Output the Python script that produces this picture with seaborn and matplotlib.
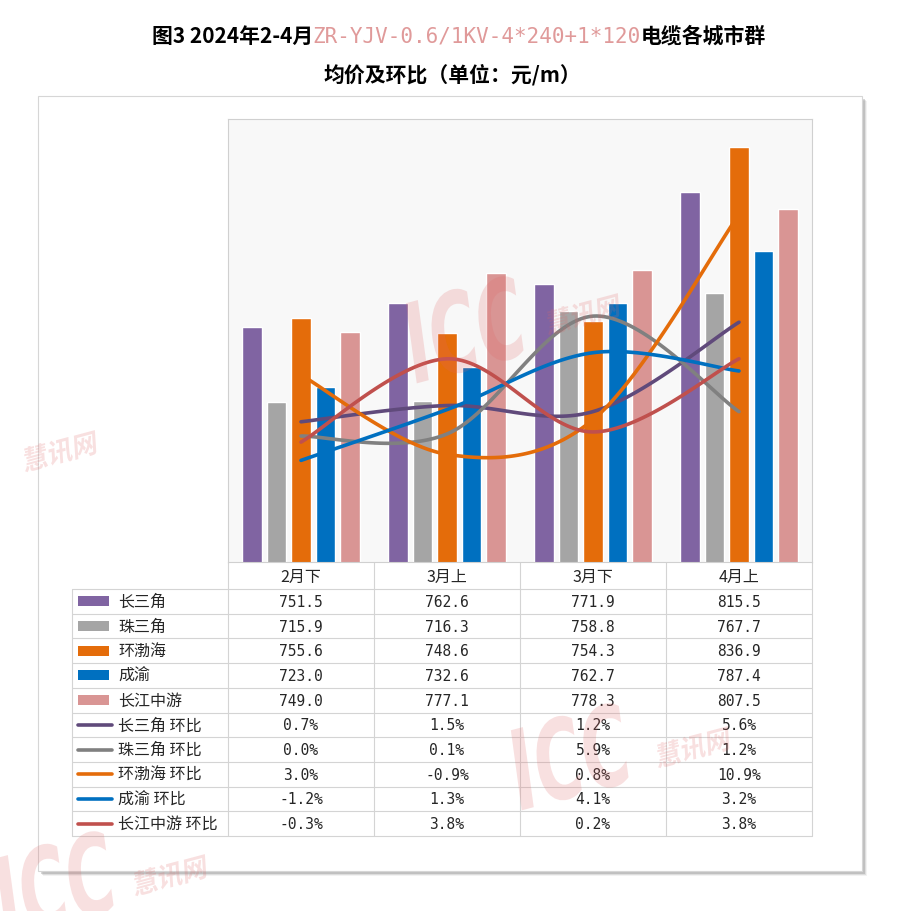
import numpy as np
import pandas as pd
import matplotlib
matplotlib.use('Agg')
import matplotlib.pyplot as plt
import seaborn as sns
from matplotlib.patches import Rectangle, PathPatch
from matplotlib.textpath import TextPath
from matplotlib.font_manager import FontProperties
from matplotlib.transforms import Affine2D

# values
periods = ['2月下', '3月上', '3月下', '4月上']
regions = ['长三角', '珠三角', '环渤海', '成渝', '长江中游']

price_csj = [751.5, 762.6, 771.9, 815.5]
price_zsj = [715.9, 716.3, 758.8, 767.7]
price_hbh = [755.6, 748.6, 754.3, 836.9]
price_cy = [723.0, 732.6, 762.7, 787.4]
price_cjzy = [749.0, 777.1, 778.3, 807.5]

mom_csj = [0.7, 1.5, 1.2, 5.6]
mom_zsj = [0.0, 0.1, 5.9, 1.2]
mom_hbh = [3.0, -0.9, 0.8, 10.9]
mom_cy = [-1.2, 1.3, 4.1, 3.2]
mom_cjzy = [-0.3, 3.8, 0.2, 3.8]

bar_colors = ['#8064A2', '#A5A5A5', '#E46C0A', '#0070C0', '#D99594']
line_colors = ['#604A7B', '#808080', '#E46C0A', '#0070C0', '#C0504D']

prices = [price_csj, price_zsj, price_hbh, price_cy, price_cjzy]
moms = [mom_csj, mom_zsj, mom_hbh, mom_cy, mom_cjzy]

df = pd.DataFrame({
    'period': periods * len(regions),
    'region': [r for r in regions for _ in periods],
    'price': [v for s in prices for v in s],
})


def smooth(ys, n=40):
    # excel-like smoothed line (bezier through the points)
    P = np.column_stack([np.arange(len(ys)), np.asarray(ys, float)])
    ext = np.vstack([P[0], P, P[-1]])
    t = np.linspace(0, 1, n)[:, None]
    out = []
    for i in range(len(P) - 1):
        p0, p1, p2, p3 = ext[i], ext[i + 1], ext[i + 2], ext[i + 3]
        c1 = p1 + (p2 - p0) / 6
        c2 = p2 - (p3 - p1) / 6
        seg = (1 - t) ** 3 * p1 + 3 * (1 - t) ** 2 * t * c1 + 3 * (1 - t) * t ** 2 * c2 + t ** 3 * p2
        out.append(seg if i == 0 else seg[1:])
    return np.vstack(out)


sns.set_theme(style='white')
plt.rcParams['font.family'] = ['Noto Sans CJK SC', 'DejaVu Sans']

W, H = 900, 912
fig = plt.figure(figsize=(W / 100, H / 100), dpi=100)

# background layer in pixel coords: card, shadow, title, table
bg = fig.add_axes([0, 0, 1, 1], zorder=0)
bg.set_xlim(0, W)
bg.set_ylim(H, 0)
bg.axis('off')

for k, a in enumerate([0.10, 0.18, 0.30]):
    off = 5 - k
    bg.add_patch(Rectangle((38 + off, 97 + off), 824, 775, fc='#808080', ec='none', alpha=a))
bg.add_patch(Rectangle((38, 97), 824, 775, fc='white', ec='#D6D6D6', lw=0.8))

# title with coloured middle part
fig.canvas.draw()
renderer = fig.canvas.get_renderer()
parts = [
    ('图3 2024年2-4月', 'black', dict(family=['Noto Sans CJK SC'], weight='bold')),
    ('ZR-YJV-0.6/1KV-4*240+1*120', '#E09A9A', dict(family=['DejaVu Sans Mono'])),
    ('电缆各城市群', 'black', dict(family=['Noto Sans CJK SC'], weight='bold')),
]
texts = []
for s, c, kw in parts:
    texts.append(bg.text(0, 36, s, color=c, fontsize=15, va='center', ha='left', **kw))
widths = [t.get_window_extent(renderer).width for t in texts]
x = 459 - sum(widths) / 2
for t, w in zip(texts, widths):
    t.set_x(x)
    x += w
bg.text(452, 75, '均价及环比（单位：元/m）', fontsize=15, weight='bold',
        ha='center', va='center', color='black')

# main plot
x0, x1, y0, y1 = 228, 812, 120, 563
ax = fig.add_axes([x0 / W, 1 - y1 / H, (x1 - x0) / W, (y1 - y0) / H], zorder=2)
sns.barplot(data=df, x='period', y='price', hue='region', palette=bar_colors,
            width=0.84, gap=0.22, saturation=1, legend=False, ax=ax)
ax.set_xlim(-0.5, 3.5)
ax.set_ylim(640, 850)
ax.set_facecolor('#F8F8F8')
ax.set_xlabel('')
ax.set_ylabel('')
ax.set_xticks([])
ax.set_yticks([])
for sp in ax.spines.values():
    sp.set_color('#D0D0D0')
    sp.set_linewidth(0.8)

ax2 = ax.twinx()
for vals, c in zip(moms, line_colors):
    pts = smooth(vals)
    ax2.plot(pts[:, 0], pts[:, 1], color=c, lw=2.6, solid_capstyle='round')
ax2.set_ylim(-6.2, 15.6)
ax2.set_yticks([])
for sp in ax2.spines.values():
    sp.set_visible(False)

# data table
col_x = [228, 374, 520, 666, 812]
row_h = 24.7
row_top = 590
n_rows = 10
grid = '#D4D4D4'
bg.plot([228, 228], [563, row_top + n_rows * row_h], color=grid, lw=0.8)
for cx in col_x[1:]:
    bg.plot([cx, cx], [563, row_top + n_rows * row_h], color=grid, lw=0.8)
bg.plot([72, 72], [row_top, row_top + n_rows * row_h], color=grid, lw=0.8)
for i in range(n_rows + 1):
    yy = row_top + i * row_h
    bg.plot([72, 812], [yy, yy], color=grid, lw=0.8)

for j, p in enumerate(periods):
    bg.text((col_x[j] + col_x[j + 1]) / 2, 577, p, ha='center', va='center', fontsize=11.5)

row_labels = regions + [r + ' 环比' for r in regions]
for i in range(n_rows):
    yc = row_top + (i + 0.5) * row_h
    if i < 5:
        bg.add_patch(Rectangle((78, yc - 5), 31, 10, fc=bar_colors[i], ec='none'))
        vals = [f'{v:.1f}' for v in prices[i]]
    else:
        bg.plot([78, 112], [yc, yc], color=line_colors[i - 5], lw=2.6, solid_capstyle='round')
        vals = [f'{v:.1f}%' for v in moms[i - 5]]
    bg.text(118, yc, row_labels[i], ha='left', va='center', fontsize=11.5)
    for j, s in enumerate(vals):
        bg.text((col_x[j] + col_x[j + 1]) / 2, yc, s, ha='center', va='center',
                fontsize=10.5, family=['DejaVu Sans Mono'])

# watermarks (condensed, slanted outlines)
top = fig.add_axes([0, 0, 1, 1], zorder=10)
top.set_xlim(0, W)
top.set_ylim(H, 0)
top.axis('off')
top.patch.set_alpha(0)

latin_fp = FontProperties(family='DejaVu Sans', weight='bold')
cjk_fp = FontProperties(family='Noto Sans CJK SC', weight='bold')


def watermark(s, cx, cy, size, sx, fp, rot=15):
    path = TextPath((0, 0), s, size=size, prop=fp)
    ext = path.get_extents()
    tr = (Affine2D().translate(-(ext.x0 + ext.x1) / 2, -(ext.y0 + ext.y1) / 2)
          .skew_deg(12, 0).scale(sx, -1).rotate_deg(-rot).translate(cx, cy))
    top.add_patch(PathPatch(tr.transform_path(path), fc='#E06666', ec='none', alpha=0.2))


for (ix, iy), (cx, cy) in [((465, 330), (583, 315)), ((570, 757), (693, 748)),
                           ((55, 885), (170, 876)), ((-60, 470), (60, 452)),
                           ((960, 215), (1080, 200))]:
    watermark('ICC', ix, iy, 110, 0.6, latin_fp)
    watermark('慧讯网', cx, cy, 27, 0.95, cjk_fp)

fig.savefig('out.png', dpi=100)
